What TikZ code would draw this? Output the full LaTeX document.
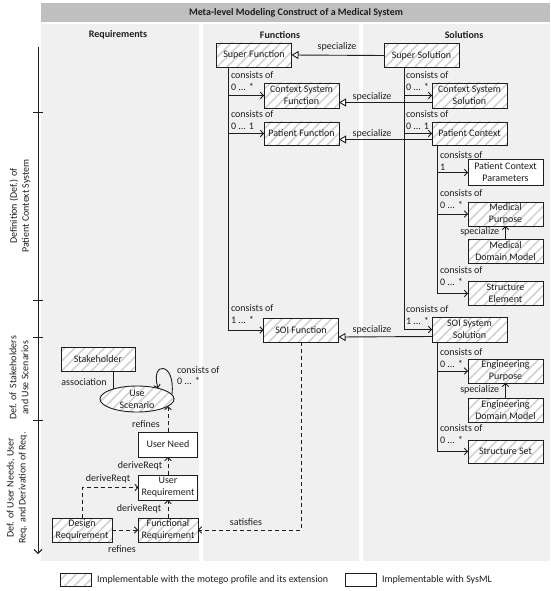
\documentclass[tikz,border=0pt]{standalone}
\usepackage{fontspec}
\setmainfont{Carlito}
\usetikzlibrary{arrows.meta,patterns.meta,shapes.geometric,calc}
\definecolor{colbg}{HTML}{F0F0F0}
\definecolor{titlebg}{HTML}{BFBFBF}
\definecolor{hatchc}{HTML}{D2D2D2}
\definecolor{ln}{HTML}{1E1E1E}
\begin{document}
\begin{tikzpicture}[x=1pt,y=-1pt,
  font=\fontsize{10}{12}\selectfont,
  every node/.style={inner sep=0pt, outer sep=0pt, text=ln},
  box/.style={draw=ln, line width=0.9pt, minimum width=75pt, minimum height=24pt, align=center},
  hatched/.style={box, preaction={fill=white}, pattern={Lines[angle=45,distance=7pt,line width=1.6pt]}, pattern color=hatchc},
  plain/.style={box, fill=white},
  conn/.style={draw=ln, line width=0.9pt, -{Straight Barb[length=3pt,width=6.5pt]}},
  dconn/.style={conn, dash pattern=on 4pt off 3pt},
  spec/.style={draw=ln, line width=0.9pt, -{Triangle[open,length=7pt,width=8pt,fill=white]}},
  plainline/.style={draw=ln, line width=0.9pt},
  lbl/.style={anchor=west},
  hdr/.style={font=\fontsize{10}{12}\selectfont\bfseries},
]
\useasboundingbox (0,0) rectangle (550,591);
% backgrounds
\fill[titlebg] (41,3) rectangle (550,22);
\fill[colbg] (41,24) rectangle (199,561);
\fill[colbg] (203,24) rectangle (359,561);
\fill[colbg] (363,24) rectangle (550,561);
\node[hdr] (title) at (296,13) {Meta-level Modeling Construct of a Medical System};
\node[hdr] (hreq) at (118,35) {Requirements};
\node[hdr] (hfun) at (280,35) {Functions};
\node[hdr] (hsol) at (464,35) {Solutions};

% axis
\draw[plainline, -{Straight Barb[length=4pt,width=8pt]}] (38,47) -- (38,554);
\foreach \yy in {112,300,337,420} \draw[plainline] (33,\yy) -- (43,\yy);
\node[rotate=90, align=center] (ax1) at (20,206) {Definition (Def.) of\\Patient Context System};
\node[rotate=90, align=center] (ax2) at (19,378) {Def. of\ \ Stakeholders\\and Use Scenarios};
\node[rotate=90, align=center] (ax3) at (17,488) {Def. of User Needs, User\\Req. and Derivation of Req.};

% function / solution nodes
\node[hatched] (SF) at (254,55) {Super Function};
\node[hatched] (SS) at (421.5,55.5) {Super Solution};
\node[hatched, minimum height=25pt] (CSF) at (301.5,95.5) {Context System\\Function};
\node[hatched, minimum height=25pt] (CSS) at (469.5,95.5) {Context System\\Solution};
\node[hatched, minimum height=23pt] (PF) at (301.5,133.5) {Patient Function};
\node[hatched, minimum height=23pt] (PC) at (469.5,133.5) {Patient Context};
\node[plain, minimum height=26pt] (PCP) at (505.5,172.5) {Patient Context\\Parameters};
\node[hatched] (MP) at (505.5,214) {Medical\\Purpose};
\node[hatched] (MDM) at (505.5,251.5) {Medical\\Domain Model};
\node[hatched] (SE) at (505.5,293.5) {Structure\\Element};
\node[hatched] (SOIF) at (301,330) {SOI Function};
\node[hatched, minimum height=25pt] (SSS) at (469.5,329.5) {SOI System\\Solution};
\node[hatched] (EP) at (505.5,371) {Engineering\\Purpose};
\node[hatched] (EDM) at (505.5,410) {Engineering\\Domain Model};
\node[hatched, minimum height=23pt] (SSet) at (505.5,451.5) {Structure Set};

% requirement nodes
\node[hatched, minimum width=74pt] (Stake) at (98,359) {Stakeholder};
\node[hatched, ellipse, minimum width=74pt, minimum height=26pt, inner ysep=-2pt] (US) at (137,399) {Use\\Scenario};
\node[plain, minimum width=59pt, minimum height=25pt] (UN) at (168,444.5) {User Need};
\node[plain, minimum width=59pt, minimum height=25pt] (UR) at (168,487.5) {User\\Requirement};
\node[hatched, minimum width=60pt] (DR) at (82,530) {Design\\Requirement};
\node[hatched, minimum width=60pt] (FR) at (168,530) {Functional\\Requirement};

% trunks
\coordinate (ft) at (228,0);
\coordinate (st) at (404,0);
\coordinate (pt) at (437,0);

% specialize
\draw[spec] (SS.west) -- (SF.east);
\node (sp1) at (337,47) {specialize};
\draw[spec] ([yshift=-7pt]CSS.west) -- ([yshift=-7pt]CSF.east);
\node (sp2) at (372,97) {specialize};
\draw[spec] ([yshift=-6pt]PC.west) -- ([yshift=-6pt]PF.east);
\node (sp3) at (372,134) {specialize};
\draw[spec] ([yshift=-7pt]SSS.west) -- ([yshift=-7pt]SOIF.east);
\node (sp4) at (372,330) {specialize};

% function trunk
\draw[conn] (SF.south -| ft) |- (SOIF.west);
\draw[conn] (ft |- CSF.west) -- (CSF.west);
\draw[conn] (ft |- PF.west) -- (PF.west);
\node[lbl] (fc1) at (231,75) {consists of};
\node[lbl] (fm1) at (231,87) {0 ... *};
\node[lbl] (fc2) at (231,114) {consists of};
\node[lbl] (fm2) at (231,126) {0 ... 1};
\node[lbl] (fc3) at (231,308) {consists of};
\node[lbl] (fm3) at (231,320) {1 ... *};

% solution trunk
\draw[conn] (SS.south -| st) |- (SSS.west);
\draw[conn] (st |- CSS.west) -- (CSS.west);
\draw[conn] (st |- PC.west) -- (PC.west);
\node[lbl] (sc1) at (406,75) {consists of};
\node[lbl] (sm1) at (406,87) {0 ... *};
\node[lbl] (sc2) at (406,114) {consists of};
\node[lbl] (sm2) at (406,126) {0 ... 1};
\node[lbl] (sc3) at (406,309) {consists of};
\node[lbl] (sm3) at (406,321) {1 ... *};

% patient context trunk
\draw[conn] (PC.south -| pt) |- (SE.west);
\draw[conn] (pt |- PCP.west) -- (PCP.west);
\draw[conn] (pt |- MP.west) -- (MP.west);
\draw[conn] (MDM.north) -- (MP.south);
\node[lbl] (pc1) at (440,155) {consists of};
\node[lbl] (pm1) at (440,167) {1};
\node[lbl] (pc2) at (440,193) {consists of};
\node[lbl] (pm2) at (440,205) {0 ... *};
\node[anchor=east] (ps1) at (499,232) {specialize};
\node[lbl] (pc3) at (440,270) {consists of};
\node[lbl] (pm3) at (440,282) {0 ... *};

% SOI system solution trunk
\draw[conn] (SSS.south -| pt) |- (SSet.west);
\draw[conn] (pt |- EP.west) -- (EP.west);
\draw[conn] (EDM.north) -- (EP.south);
\node[lbl] (ec1) at (440,352) {consists of};
\node[lbl] (em1) at (440,364) {0 ... *};
\node[anchor=east] (es1) at (499,390) {specialize};
\node[lbl] (ec2) at (440,428) {consists of};
\node[lbl] (em2) at (440,440) {0 ... *};

% requirements
\draw[plainline] (US.157) -- (US.157 |- Stake.south);
\node (assoc) at (84,382) {association};
\draw[conn] (US.7) .. controls +(4,-33) and +(-8,-28) .. (US.27);
\node[lbl] (uc1) at (177,370) {consists of};
\node[lbl] (um1) at (177,381) {0 ... *};
\draw[dconn] (UN.north) -- (UN.north |- US.-13);
\node (ref1) at (146,424) {refines};
\draw[dconn] (UR.north) -- (UN.south);
\node (dr1) at (140,466) {deriveReqt};
\draw[dconn] (DR.north) |- (UR.west);
\node (dr2) at (108,479) {deriveReqt};
\draw[dconn] (FR.north) -- (UR.south);
\node (dr3) at (139,509) {deriveReqt};
\draw[dconn] (DR.east) -- (FR.west);
\node (ref2) at (122,549) {refines};
\draw[dconn] (SOIF.south) |- (FR.east);
\node (sat) at (246,522) {satisfies};

% legend
\node[hatched, minimum width=31pt, minimum height=13pt] (leg1) at (75.5,579.5) {};
\node[lbl] (leg1t) at (97,580) {Implementable with the motego profile and its extension};
\node[plain, minimum width=31pt, minimum height=13pt] (leg2) at (360.5,579.5) {};
\node[lbl] (leg2t) at (382,580) {Implementable with SysML};
\end{tikzpicture}
\end{document}
